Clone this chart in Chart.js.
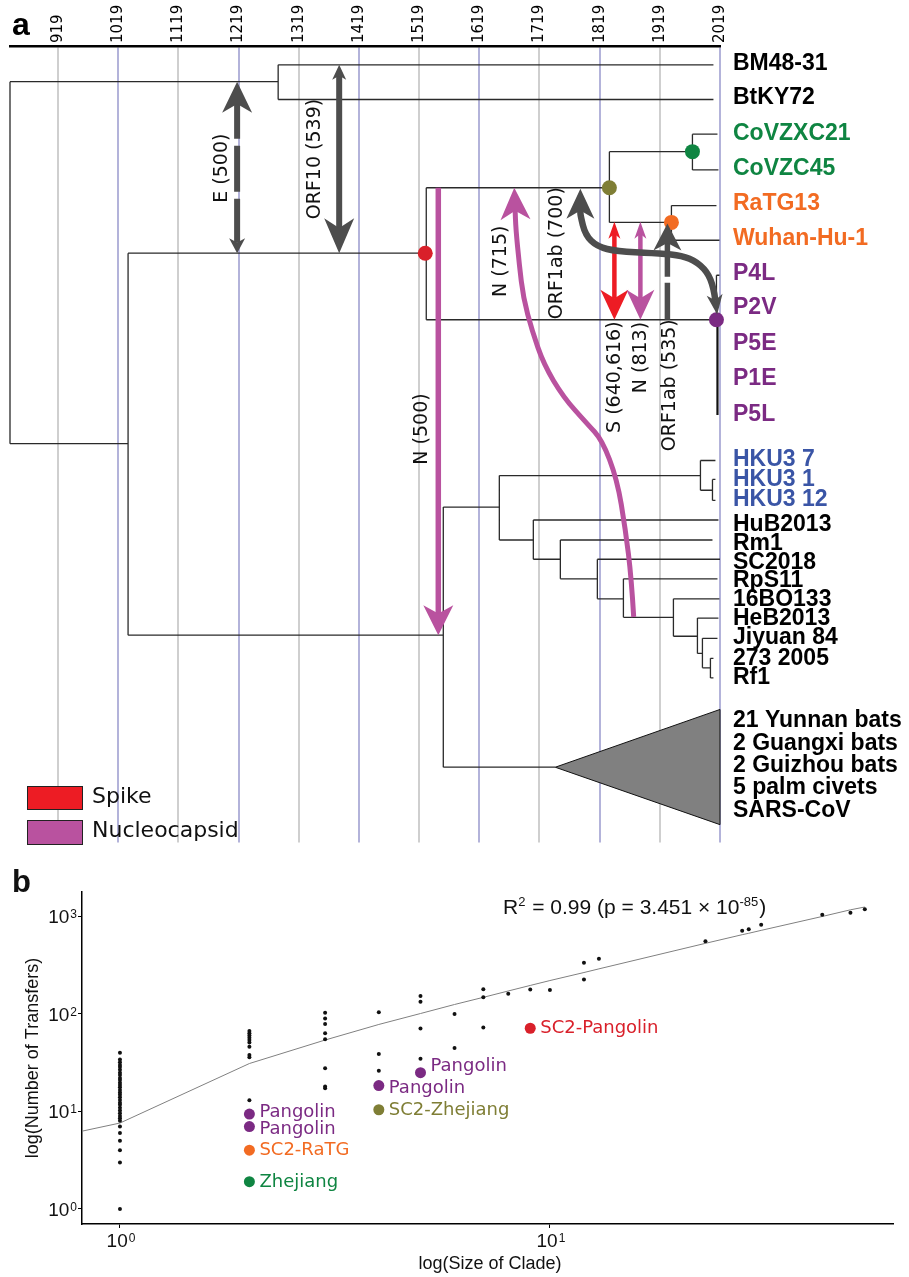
<!DOCTYPE html>
<html>
<head>
<meta charset="utf-8">
<title>Gene transfers on the sarbecovirus tree</title>
<script src="https://cdn.jsdelivr.net/npm/chart.js@4.4.1/dist/chart.umd.min.js"></script>
<style>
  body { margin: 0; background: #fff; }
  .panel { position: absolute; left: 0; }
</style>
</head>
<body>
<canvas id="treeChart" class="panel" width="909" height="850" style="top:0"></canvas>
<canvas id="fitChart" class="panel" width="909" height="427" style="top:850px"></canvas>
<script>
'use strict';

// ---------- panel a: dated tree (x = year, y = row on the tree) ----------
var tickYears = [919, 1019, 1119, 1219, 1319, 1419, 1519, 1619, 1719, 1819, 1919, 2019];

var leafNames = ['BM48-31', 'BtKY72', 'CoVZXC21', 'CoVZC45', 'RaTG13', 'Wuhan-Hu-1',
    'P4L', 'P2V', 'P5E', 'P1E', 'P5L',
    'HKU3 7', 'HKU3 1', 'HKU3 12', 'HuB2013', 'Rm1', 'SC2018', 'RpS11', '16BO133',
    'HeB2013', 'Jiyuan 84', '273 2005', 'Rf1',
    '21 Yunnan bats', '2 Guangxi bats', '2 Guizhou bats', '5 palm civets', 'SARS-CoV'];
var leafRows = [0.96, 1.95, 2.96, 3.96, 4.96, 5.96, 6.97, 7.94, 8.96, 9.97, 11.0,
    12.27, 12.84, 13.41, 14.12, 14.68, 15.22, 15.73, 16.27, 16.81, 17.35, 17.95, 18.51,
    19.74, 20.38, 21.01, 21.65, 22.29];
var leafGroups = ['bat', 'bat', 'zhejiang', 'zhejiang', 'ratg', 'ratg',
    'pangolin', 'pangolin', 'pangolin', 'pangolin', 'pangolin',
    'hku3', 'hku3', 'hku3', 'bat', 'bat', 'bat', 'bat', 'bat', 'bat', 'bat', 'bat', 'bat',
    'bat', 'bat', 'bat', 'bat', 'bat'];

// horizontal branches: [fromYear, toYear, row]
var branchH = [
    [839.2, 1284.8, 1.48], [1284.8, 2008.1, 1.00], [1284.8, 2008.1, 1.99],
    [839.2, 1035.4, 11.82], [1035.4, 1529.2, 6.38], [1035.4, 1559.2, 17.29],
    [1530.9, 1835.2, 4.51], [1530.9, 2013.1, 8.28],
    [1835.2, 1973.2, 3.48], [1835.2, 1938.3, 5.50],
    [1973.2, 2014.8, 2.98], [1973.2, 2016.4, 4.00],
    [1938.3, 2013.1, 5.02], [1938.3, 2018.1, 6.01], [2013.1, 2018.1, 7.01],
    [1559.2, 1652.3, 13.63], [1559.2, 1745.3, 21.06],
    [1652.3, 1986.5, 12.73], [1986.5, 2011.4, 12.30], [1986.5, 2006.5, 13.15],
    [2006.5, 2011.4, 12.84], [2006.5, 2011.4, 13.44],
    [1652.3, 1708.8, 14.57], [1708.8, 2016.4, 14.00],
    [1708.8, 1753.7, 15.12], [1753.7, 2006.5, 14.57],
    [1753.7, 1815.2, 15.68], [1815.2, 2019, 15.12],
    [1815.2, 1858.5, 16.25], [1858.5, 2014.8, 15.68],
    [1858.5, 1941.6, 16.78], [1941.6, 2018.1, 16.25],
    [1941.6, 1981.5, 17.32], [1981.5, 2016.4, 16.80],
    [1981.5, 1989.8, 17.81], [1989.8, 2014.8, 17.38],
    [1989.8, 2003.1, 18.22], [2003.1, 2008.1, 17.95], [2003.1, 2008.1, 18.51]
];
// vertical connectors: [year, topRow, bottomRow]
var branchV = [
    [839.2, 1.48, 11.82], [1284.8, 1.00, 1.99], [1035.4, 6.38, 17.29],
    [1530.9, 4.51, 8.28], [1835.2, 3.48, 5.50], [1973.2, 2.98, 4.00],
    [1938.3, 5.02, 6.01], [2013.1, 7.01, 8.28],
    [1559.2, 13.63, 21.06], [1652.3, 12.73, 14.57], [1986.5, 12.30, 13.15],
    [2006.5, 12.84, 13.44], [1708.8, 14.00, 15.12], [1753.7, 14.57, 15.68],
    [1815.2, 15.12, 16.25], [1858.5, 15.68, 16.78], [1941.6, 16.25, 17.32],
    [1981.5, 16.80, 17.81], [1989.8, 17.38, 18.22], [2003.1, 17.95, 18.51]
];
// P5E / P1E / P5L sit on an almost zero-length stem
var pangolinStemYear = 2014.8;
var pangolinStemRows = [8.28, 11.0];

// collapsed clade (21 Yunnan bats ... SARS-CoV)
var cladeYears = [1745.3, 2019, 2019];
var cladeRows = [21.06, 19.41, 22.70];

// coloured ancestral nodes
var nodeYears = [1529.2, 1835.2, 1973.2, 1938.3, 2013.1];
var nodeRows = [6.38, 4.51, 3.48, 5.50, 8.28];
var nodeGroups = ['spike', 'sc2', 'zhejiang', 'ratg', 'pangolin'];

// straight transfers
var transferGenes = ['E (500)', 'ORF10 (539)', 'N (500)', 'S (640,616)', 'N (813)', 'ORF1ab (535)'];
var transferYears = [1216.6, 1386.2, 1550.9, 1843.5, 1886.7, 1931.6];
var transferFromRows = [6.38, 1.00, 4.51, 5.48, 5.48, 8.28];
var transferToRows = [1.48, 6.38, 17.29, 8.28, 8.28, 5.53];
var transferLabelYears = [1190.9, 1346.3, 1523.8, 1844.3, 1888.4, 1935.8];
var transferLabelRows = [3.95, 3.69, 11.40, 9.92, 9.36, 10.15];

// curved transfers (points from the source end to the arrow tip)
var n715Years = [1875.6, 1871.8, 1861.8, 1848, 1823, 1798.1, 1758.7, 1726, 1706.7, 1692.2, 1685.5, 1679.7, 1677.2];
var n715Rows = [16.77, 15.67, 14.26, 12.84, 11.71, 11.25, 10.49, 9.55, 8.59, 7.66, 6.71, 5.67, 4.51];
var orf700Years = [2014.3, 2008.6, 1997.7, 1975.4, 1947.8, 1908.4, 1848, 1814.7, 1795.3, 1787, 1787];
var orf700Rows = [8.13, 7.37, 6.90, 6.57, 6.43, 6.38, 6.33, 6.19, 5.86, 5.30, 4.54];
var curveLabels = ['N (715)', 'ORF1ab (700)'];
var curveLabelYears = [1655.6, 1748.7];
var curveLabelRows = [6.61, 6.38];

// ---------- panel b: transfers vs clade size ----------
var cladeSizes = [1, 2, 3, 4, 5, 6, 7, 8, 9, 10, 12, 13, 23, 28, 29, 31, 43, 50, 54];
var transfersBySize = [
    [1, 3, 4, 5, 6, 7, 8, 8.5, 9, 9.6, 10.2, 10.9, 11.7, 12.3, 13.1, 14, 14.8, 15.6, 16.6,
        17.7, 18.7, 19.7, 21, 22, 23.7, 25, 26.7, 28.6, 30, 32, 34, 40],
    [13, 36, 38, 46, 51, 54, 57, 60, 63.4, 67],
    [17.3, 18, 27.7, 55, 63.4, 79, 90, 103],
    [26.1, 38.9, 104],
    [34.8, 70.7, 133, 153],
    [44.8, 100],
    [72.4, 148, 179],
    [161], [178], [176], [225, 336], [369], [557], [715], [739], [824], [1043], [1094], [1185]
];
var fitSizes = [0.82, 1, 2, 3, 4, 5, 6, 7, 8, 9, 10, 12, 13, 23, 28, 29, 31, 43, 50, 54];
var fitTransfers = [6.3, 7.6, 31, 54, 78, 101, 125, 148, 172, 196, 220, 266, 290, 530, 650, 672, 720, 1000, 1170, 1250];
var highlightSizes = [2, 2, 2, 2, 4, 4, 5, 9];
var highlightTransfers = [9.4, 7.0, 4.0, 1.9, 18.4, 10.4, 25, 71.3];
var highlightLabels = ['Pangolin', 'Pangolin', 'SC2-RaTG', 'Zhejiang', 'Pangolin', 'SC2-Zhejiang', 'Pangolin', 'SC2-Pangolin'];
var highlightGroups = ['pangolin', 'pangolin', 'ratg', 'zhejiang', 'pangolin', 'sc2', 'pangolin', 'spike'];

// ---------- styles ----------
var SANS = '"Liberation Sans", Arial, Helvetica, sans-serif';
var DEJAVU = '"DejaVu Sans", Verdana, sans-serif';
var GROUP_COLORS = {
    bat: '#000000', zhejiang: '#0f8542', ratg: '#f26b22', pangolin: '#7b2a83',
    hku3: '#3a55a6', sc2: '#7f7e35', spike: '#d9202a'
};
var GENE_GRAY = '#4d4d4d', GENE_PINK = '#b9529f', GENE_RED = '#ed1c24';
var ARROW_STYLES = [
    {color: GENE_GRAY, width: 6, toHead: [31, 15], fromHead: [15, 8], dash: [44, 7, 46, 7, 400]},
    {color: GENE_GRAY, width: 6, toHead: [35, 15], fromHead: [15, 7]},
    {color: GENE_PINK, width: 5.5, toHead: [30, 15]},
    {color: GENE_RED, width: 4.5, toHead: [30, 14], fromHead: [17, 6]},
    {color: GENE_PINK, width: 4.5, toHead: [30, 14], fromHead: [17, 6]},
    {color: GENE_GRAY, width: 5.5, toHead: [27, 14], dash: [37, 6, 400]}
];
var CURVE_STYLES = [
    {color: GENE_PINK, width: 5, toHead: [32, 15]},
    {color: GENE_GRAY, width: 6.5, toHead: [30, 14], fromHead: [20, 8]}
];
var LABEL_SHIFT = [-2, 3, 0, 1, 2.5, 1, -6, 0];

function unit(a, b) {
    var dx = b.x - a.x, dy = b.y - a.y, l = Math.sqrt(dx * dx + dy * dy) || 1;
    return {x: dx / l, y: dy / l};
}

function drawHead(ctx, tip, dir, size, color) {
    var len = size[0], half = size[1];
    var bx = tip.x - dir.x * len, by = tip.y - dir.y * len;
    var nx = -dir.y, ny = dir.x;
    ctx.beginPath();
    ctx.moveTo(tip.x, tip.y);
    ctx.lineTo(bx + nx * half, by + ny * half);
    ctx.lineTo(tip.x - dir.x * len * 0.72, tip.y - dir.y * len * 0.72);
    ctx.lineTo(bx - nx * half, by - ny * half);
    ctx.closePath();
    ctx.fillStyle = color;
    ctx.fill();
}

// pts are pixel points, source end first, tip last
function drawArrow(ctx, pts, style) {
    var n = pts.length, line = pts.slice();
    var dTo = unit(pts[n - 2], pts[n - 1]), dFrom = null;
    line[n - 1] = {x: pts[n - 1].x - dTo.x * style.toHead[0] * 0.7, y: pts[n - 1].y - dTo.y * style.toHead[0] * 0.7};
    if (style.fromHead) {
        dFrom = unit(pts[1], pts[0]);
        line[0] = {x: pts[0].x - dFrom.x * style.fromHead[0] * 0.7, y: pts[0].y - dFrom.y * style.fromHead[0] * 0.7};
    }
    ctx.save();
    ctx.strokeStyle = style.color;
    ctx.lineWidth = style.width;
    ctx.lineCap = 'butt';
    ctx.lineJoin = 'round';
    if (style.dash) ctx.setLineDash(style.dash);
    ctx.beginPath();
    ctx.moveTo(line[0].x, line[0].y);
    for (var i = 1; i < n - 1; i++) {
        ctx.quadraticCurveTo(line[i].x, line[i].y, (line[i].x + line[i + 1].x) / 2, (line[i].y + line[i + 1].y) / 2);
    }
    ctx.lineTo(line[n - 1].x, line[n - 1].y);
    ctx.stroke();
    ctx.setLineDash([]);
    drawHead(ctx, pts[n - 1], dTo, style.toHead, style.color);
    if (dFrom) drawHead(ctx, pts[0], dFrom, style.fromHead, style.color);
    ctx.restore();
}

function vText(ctx, text, x, y, align) {
    ctx.save();
    ctx.translate(x, y);
    ctx.rotate(-Math.PI / 2);
    ctx.textAlign = align || 'center';
    ctx.textBaseline = 'middle';
    ctx.fillText(text, 0, 0);
    ctx.restore();
}

var treePoints = [];
branchH.forEach(function (b) {
    treePoints.push({x: b[0], y: b[2]}, {x: b[1], y: b[2]}, {x: b[1], y: null});
});
branchV.forEach(function (b) {
    treePoints.push({x: b[0], y: b[1]}, {x: b[0], y: b[2]}, {x: b[0], y: null});
});

var treeDecor = {
    id: 'treeDecor',
    beforeDatasetsDraw: function (chart) {
        var ctx = chart.ctx, xs = chart.scales.x, ys = chart.scales.y;
        ctx.save();
        ctx.beginPath();
        cladeYears.forEach(function (v, i) {
            var px = xs.getPixelForValue(v), py = ys.getPixelForValue(cladeRows[i]);
            if (i === 0) ctx.moveTo(px, py); else ctx.lineTo(px, py);
        });
        ctx.closePath();
        ctx.fillStyle = '#808080';
        ctx.fill();
        ctx.strokeStyle = '#111';
        ctx.lineWidth = 1;
        ctx.stroke();
        ctx.restore();
    },
    afterDatasetsDraw: function (chart) {
        var ctx = chart.ctx, xs = chart.scales.x, ys = chart.scales.y;
        transferYears.forEach(function (yr, i) {
            var px = xs.getPixelForValue(yr);
            drawArrow(ctx, [
                {x: px, y: ys.getPixelForValue(transferFromRows[i])},
                {x: px, y: ys.getPixelForValue(transferToRows[i])}
            ], ARROW_STYLES[i]);
        });
        [[n715Years, n715Rows], [orf700Years, orf700Rows]].forEach(function (c, k) {
            var pts = c[0].map(function (v, i) {
                return {x: xs.getPixelForValue(v), y: ys.getPixelForValue(c[1][i])};
            });
            drawArrow(ctx, pts, CURVE_STYLES[k]);
        });
    },
    afterDraw: function (chart) {
        var ctx = chart.ctx, xs = chart.scales.x, ys = chart.scales.y, area = chart.chartArea;
        ctx.save();
        // year ticks, reading upwards from the axis
        ctx.font = '15px ' + DEJAVU;
        ctx.fillStyle = '#000';
        tickYears.forEach(function (yr) {
            vText(ctx, String(yr), xs.getPixelForValue(yr), area.top - 3, 'left');
        });
        // leaf names
        ctx.font = 'bold 23px ' + SANS;
        ctx.textAlign = 'left';
        ctx.textBaseline = 'middle';
        leafNames.forEach(function (name, i) {
            ctx.fillStyle = GROUP_COLORS[leafGroups[i]];
            ctx.fillText(name, area.right + 13, ys.getPixelForValue(leafRows[i]));
        });
        // gene labels
        ctx.font = '19px ' + DEJAVU;
        ctx.fillStyle = '#111';
        transferGenes.forEach(function (g, i) {
            vText(ctx, g, xs.getPixelForValue(transferLabelYears[i]), ys.getPixelForValue(transferLabelRows[i]));
        });
        curveLabels.forEach(function (g, i) {
            vText(ctx, g, xs.getPixelForValue(curveLabelYears[i]), ys.getPixelForValue(curveLabelRows[i]));
        });
        // legend
        ctx.lineWidth = 1;
        ctx.strokeStyle = '#222';
        ctx.fillStyle = GENE_RED;
        ctx.fillRect(27, 786, 55, 23);
        ctx.strokeRect(27.5, 786.5, 55, 23);
        ctx.fillStyle = GENE_PINK;
        ctx.fillRect(27, 820, 55, 24);
        ctx.strokeRect(27.5, 820.5, 55, 24);
        ctx.fillStyle = '#111';
        ctx.font = '22px ' + DEJAVU;
        ctx.textBaseline = 'middle';
        ctx.fillText('Spike', 92, 797);
        ctx.fillText('Nucleocapsid', 92, 831);
        // panel letter
        ctx.font = 'bold 32px ' + SANS;
        ctx.textBaseline = 'alphabetic';
        ctx.fillStyle = '#000';
        ctx.fillText('a', 12, 35);
        ctx.restore();
    }
};

new Chart(document.getElementById('treeChart'), {
    type: 'scatter',
    data: {
        datasets: [{
            data: nodeYears.map(function (v, i) { return {x: v, y: nodeRows[i]}; }),
            pointRadius: 7.5,
            pointBorderWidth: 0,
            pointBackgroundColor: nodeGroups.map(function (g) { return GROUP_COLORS[g]; }),
            clip: false
        }, {
            data: pangolinStemRows.map(function (r) { return {x: pangolinStemYear, y: r}; }),
            showLine: true,
            borderColor: '#111',
            borderWidth: 2.2,
            pointRadius: 0,
            clip: false
        }, {
            data: treePoints,
            showLine: true,
            spanGaps: false,
            borderColor: '#2a2a2a',
            borderWidth: 1.3,
            pointRadius: 0,
            clip: false
        }]
    },
    options: {
        responsive: false,
        animation: false,
        devicePixelRatio: 1,
        events: [],
        layout: {padding: {left: 10, right: 189, top: 0, bottom: 1}},
        plugins: {legend: {display: false}, tooltip: {enabled: false}},
        scales: {
            x: {
                type: 'linear',
                position: 'top',
                min: 839.2,
                max: 2019,
                afterBuildTicks: function (s) { s.ticks = tickYears.map(function (v) { return {value: v}; }); },
                afterFit: function (s) { s.height = 46; },
                ticks: {display: false},
                grid: {
                    drawTicks: false,
                    lineWidth: 2,
                    color: function (c) { return c.index % 2 ? '#b3b3da' : '#cfcfcf'; }
                },
                border: {display: true, color: '#000', width: 2.5}
            },
            y: {type: 'linear', display: false, reverse: true, min: 0.462, max: 23.21}
        }
    },
    plugins: [treeDecor]
});

// ---------- panel b ----------
var scatterPoints = [];
cladeSizes.forEach(function (s, i) {
    transfersBySize[i].forEach(function (t) { scatterPoints.push({x: s, y: t}); });
});

function drawPower(ctx, exp, x, y, align) {
    ctx.font = '19px ' + SANS;
    var w1 = ctx.measureText('10').width;
    ctx.font = '12px ' + SANS;
    var w2 = ctx.measureText(exp).width;
    var left = align === 'right' ? x - w1 - w2 - 1 : x - (w1 + w2 + 1) / 2;
    ctx.textAlign = 'left';
    ctx.textBaseline = 'alphabetic';
    ctx.font = '19px ' + SANS;
    ctx.fillText('10', left, y);
    ctx.font = '12px ' + SANS;
    ctx.fillText(exp, left + w1 + 1, y - 5);
}

var fitDecor = {
    id: 'fitDecor',
    afterDraw: function (chart) {
        var ctx = chart.ctx, xs = chart.scales.x, ys = chart.scales.y, area = chart.chartArea;
        ctx.save();
        ctx.font = '18px ' + DEJAVU;
        ctx.textAlign = 'left';
        ctx.textBaseline = 'middle';
        highlightLabels.forEach(function (t, i) {
            ctx.fillStyle = GROUP_COLORS[highlightGroups[i]];
            ctx.fillText(t, xs.getPixelForValue(highlightSizes[i]) + 10,
                ys.getPixelForValue(highlightTransfers[i]) + LABEL_SHIFT[i]);
        });
        ctx.fillStyle = '#111';
        [0, 1, 2, 3].forEach(function (e) {
            drawPower(ctx, String(e), area.left - 5, ys.getPixelForValue(Math.pow(10, e)) + 7, 'right');
        });
        [0, 1].forEach(function (e) {
            drawPower(ctx, String(e), xs.getPixelForValue(Math.pow(10, e)) + 1, area.bottom + 23, 'center');
        });
        // axis titles
        ctx.font = '18px ' + SANS;
        vText(ctx, 'log(Number of Transfers)', 33, 208);
        ctx.textAlign = 'center';
        ctx.textBaseline = 'alphabetic';
        ctx.fillText('log(Size of Clade)', 490, 419);
        // fit statistics
        var parts = [['R', 0], ['2', 1], [' = 0.99 (p = 3.451 \u00d7 10', 0], ['-85', 1], [')', 0]];
        var cx = 503;
        ctx.textAlign = 'left';
        parts.forEach(function (p) {
            ctx.font = (p[1] ? '13px ' : '21px ') + SANS;
            ctx.fillText(p[0], cx, p[1] ? 56 : 64);
            cx += ctx.measureText(p[0]).width + (p[1] ? 1 : 0);
        });
        ctx.font = 'bold 31px ' + SANS;
        ctx.fillText('b', 12, 42);
        ctx.restore();
    }
};

new Chart(document.getElementById('fitChart'), {
    type: 'scatter',
    data: {
        datasets: [{
            data: highlightSizes.map(function (s, i) { return {x: s, y: highlightTransfers[i]}; }),
            pointRadius: 5.5,
            pointBorderWidth: 0,
            pointBackgroundColor: highlightGroups.map(function (g) { return GROUP_COLORS[g]; }),
            clip: false
        }, {
            data: scatterPoints,
            pointRadius: 2,
            pointBorderWidth: 0,
            pointBackgroundColor: '#111',
            clip: false
        }, {
            data: fitSizes.map(function (s, i) { return {x: s, y: fitTransfers[i]}; }),
            showLine: true,
            borderColor: '#808080',
            borderWidth: 1,
            pointRadius: 0
        }]
    },
    options: {
        responsive: false,
        animation: false,
        devicePixelRatio: 1,
        events: [],
        layout: {padding: {left: 0, right: 16, top: 42, bottom: 0}},
        plugins: {legend: {display: false}, tooltip: {enabled: false}},
        scales: {
            x: {
                type: 'logarithmic',
                min: 0.816,
                max: 62.8,
                afterBuildTicks: function (s) { s.ticks = [1, 10].map(function (v) { return {value: v}; }); },
                afterFit: function (s) { s.height = 53; },
                ticks: {display: false},
                grid: {drawOnChartArea: false, drawTicks: true, tickLength: 4, color: '#000'},
                border: {display: true, color: '#000', width: 1.5}
            },
            y: {
                type: 'logarithmic',
                min: 0.702,
                max: 1782,
                afterBuildTicks: function (s) { s.ticks = [1, 10, 100, 1000].map(function (v) { return {value: v}; }); },
                afterFit: function (s) { s.width = 82; },
                ticks: {display: false},
                grid: {drawOnChartArea: false, drawTicks: true, tickLength: 4, color: '#000'},
                border: {display: true, color: '#000', width: 1.5}
            }
        }
    },
    plugins: [fitDecor]
});
</script>
</body>
</html>
